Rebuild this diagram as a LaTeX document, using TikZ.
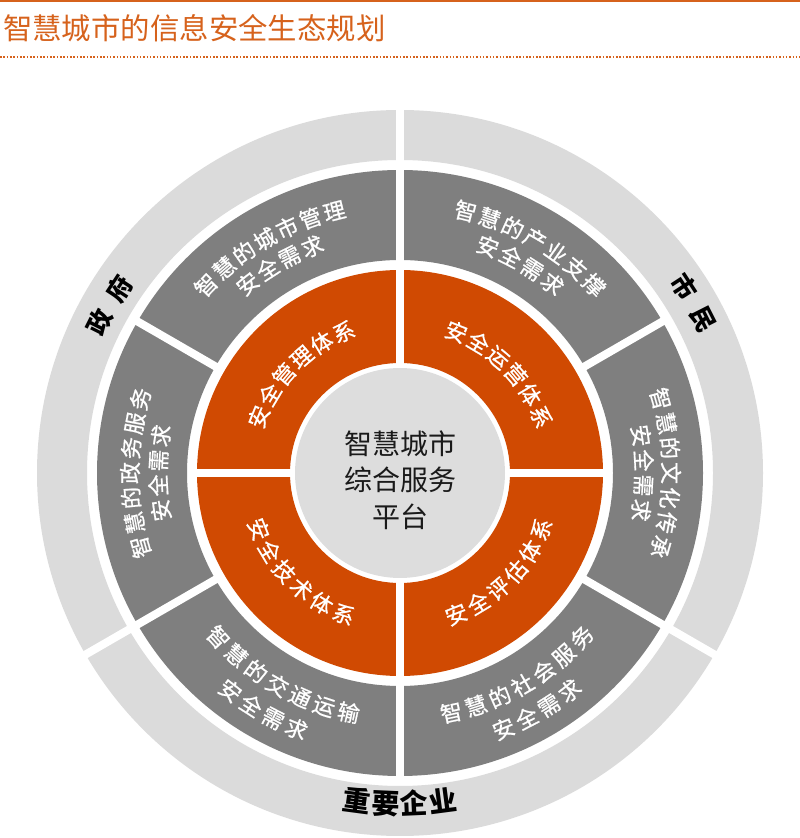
\documentclass[tikz,border=0pt]{standalone}
\usepackage{fontspec}
\setmainfont{Noto Sans CJK SC}
\newfontfamily\cjkmed[FakeBold=0.8]{Noto Sans CJK SC}
\usetikzlibrary{calc}
\definecolor{orng}{RGB}{208,74,2}
\definecolor{ttl}{RGB}{214,98,28}
\definecolor{darkg}{RGB}{127,127,127}
\definecolor{lightg}{RGB}{219,219,219}
\definecolor{centg}{RGB}{221,221,221}
\tikzset{
  seg/.style={text=white, font=\cjkmed\fontsize{22}{22}\selectfont, inner sep=0pt, text height=19.4pt, text depth=2.6pt},
  lab/.style={text=black, font=\fontsize{25}{25}\selectfont\bfseries, inner sep=0pt, text height=22pt, text depth=3pt},
  labbig/.style={text=black, font=\fontsize{28}{28}\selectfont\bfseries, inner sep=0pt, text height=24.6pt, text depth=3.4pt},
  gapline/.style={white, line width=8pt},
}
% #1 name, #2 radius, #3 mid angle, #4 spacing, #5 count, #6 mode (-1 top, 1 bottom), #7 style, #8 chars
\newcommand{\arcchars}[8]{%
  \foreach \mychar [count=\ci] in {#8} {
    \pgfmathsetmacro{\ang}{#3 + #6*(\ci-(#5+1)/2)*#4/#2*180/pi}
    \pgfmathsetmacro{\rot}{\ang + #6*90}
    \node[#7, rotate=\rot] (#1-\ci) at ($(C)+(\ang:#2)$) {\mychar};
  }
}
\begin{document}
\begin{tikzpicture}[x=1pt,y=1pt]
\useasboundingbox (0,0) rectangle (800,838);
\coordinate (C) at (400,365);
% title
\fill[ttl] (0,836.3) rectangle (800,838);
\node[anchor=west, text=ttl, font=\fontsize{29.4}{30}\selectfont, inner sep=0pt] (title) at (3,809.5) {智慧城市的信息安全生态规划};
\draw[ttl, line width=1.6pt, dash pattern=on 1.6pt off 1.73pt] (0,781) -- (800,781);
% rings
\fill[lightg, even odd rule] (C) circle (363) (C) circle (313);
\fill[darkg, even odd rule] (C) circle (303) (C) circle (213);
\fill[orng, even odd rule] (C) circle (203) (C) circle (110);
\fill[centg] (C) circle (105);
% gaps
\foreach \a in {90,210,330} \draw[gapline] ($(C)+(\a:308)$) -- ($(C)+(\a:368)$);
\foreach \a in {30,90,150,210,270,330} \draw[gapline] ($(C)+(\a:208)$) -- ($(C)+(\a:308)$);
\foreach \a in {0,90,180,270} \draw[gapline] ($(C)+(\a:107.5)$) -- ($(C)+(\a:208)$);
% dark ring texts
\arcchars{tl1}{270}{120}{25}{7}{-1}{seg}{智,慧,的,城,市,管,理}
\arcchars{tl2}{243}{120}{25}{4}{-1}{seg}{安,全,需,求}
\arcchars{tr1}{270}{60}{25}{7}{-1}{seg}{智,慧,的,产,业,支,撑}
\arcchars{tr2}{243}{60}{25}{4}{-1}{seg}{安,全,需,求}
\arcchars{r1}{271}{0}{25}{7}{-1}{seg}{智,慧,的,文,化,传,承}
\arcchars{r2}{244}{0}{25}{4}{-1}{seg}{安,全,需,求}
\arcchars{l1}{270}{180}{25}{7}{-1}{seg}{智,慧,的,政,务,服,务}
\arcchars{l2}{242}{180}{25}{4}{-1}{seg}{安,全,需,求}
\arcchars{bl1}{245}{240}{25.5}{7}{1}{seg}{智,慧,的,交,通,运,输}
\arcchars{bl2}{276}{240}{25.5}{4}{1}{seg}{安,全,需,求}
\arcchars{br1}{245}{300}{25.5}{7}{1}{seg}{智,慧,的,社,会,服,务}
\arcchars{br2}{276}{300}{25.5}{4}{1}{seg}{安,全,需,求}
% orange ring texts
\arcchars{o1}{152}{135}{24.7}{6}{-1}{seg}{安,全,管,理,体,系}
\arcchars{o2}{152}{45}{24.7}{6}{-1}{seg}{安,全,运,营,体,系}
\arcchars{o3}{152}{225}{24.7}{6}{1}{seg}{安,全,技,术,体,系}
\arcchars{o4}{152}{315}{24.7}{6}{1}{seg}{安,全,评,估,体,系}
% outer labels
\arcchars{gov}{336}{150}{39}{2}{-1}{lab}{政,府}
\arcchars{cit}{340}{30}{37}{2}{-1}{lab}{市,民}
\arcchars{ent}{331}{270}{29}{4}{1}{labbig}{重,要,企,业}
% center
\node[align=center, text={rgb,255:red,26;green,26;blue,26}, font=\fontsize{28}{36.7}\selectfont, inner sep=0pt] (ctr) at (400,358) {智慧城市\\综合服务\\平台};
\end{tikzpicture}
\end{document}
